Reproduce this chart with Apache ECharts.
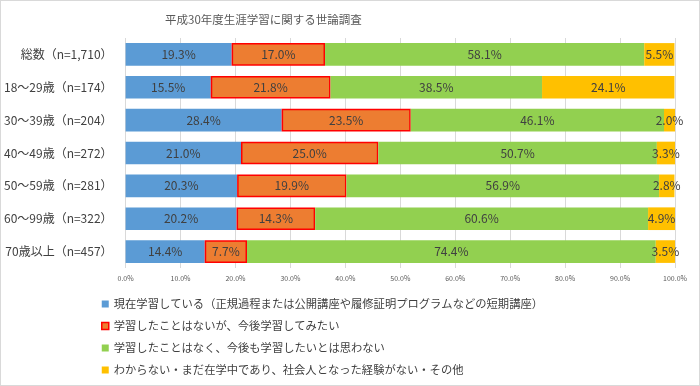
<!DOCTYPE html>
<html><head><meta charset="utf-8">
<script src="https://cdn.jsdelivr.net/npm/echarts@6/dist/echarts.min.js"></script>
<style>html,body{margin:0;padding:0;background:#fff}#c{width:698px;height:384px;border:1px solid #d9d9d9}</style>
</head><body><div id="c"></div>
<script>
const titleText = '平成30年度生涯学習に関する世論調査';
const categories = ['総数（n=1,710）','18～29歳（n=174）','30～39歳（n=204）','40～49歳（n=272）','50～59歳（n=281）','60～99歳（n=322）','70歳以上（n=457）'];
const seriesNames = [
  '現在学習している（正規過程または公開講座や履修証明プログラムなどの短期講座）',
  '学習したことはないが、今後学習してみたい',
  '学習したことはなく、今後も学習したいとは思わない',
  'わからない・まだ在学中であり、社会人となった経験がない・その他'
];
const currentlyLearning = [19.3,15.5,28.4,21.0,20.3,20.2,14.4];
const wantToLearn = [17.0,21.8,23.5,25.0,19.9,14.3,7.7];
const noIntention = [58.1,38.5,46.1,50.7,56.9,60.6,74.4];
const otherUnknown = [5.5,24.1,2.0,3.3,2.8,4.9,3.5];
const xTicks = [0,10,20,30,40,50,60,70,80,90,100];

const colors = ['#5B9BD5','#ED7D31','#92D050','#FFC000'];
const values = [currentlyLearning, wantToLearn, noIntention, otherUnknown];
const font = '"Noto Sans CJK JP", sans-serif';

const chart = echarts.init(document.getElementById('c'));
chart.setOption({
  animation: false,
  textStyle: {fontFamily: font},
  title: {text: titleText, left: 159, top: 8, textStyle: {fontSize: 11.5, fontWeight: 'normal', color: '#595959', fontFamily: font}},
  grid: {left: 123, right: 24, top: 37, bottom: 117},
  legend: {
    orient: 'vertical', left: 95, top: 292, itemWidth: 7, itemHeight: 7, itemGap: 10.5, itemGap: 10,
    icon: 'rect',
    textStyle: {fontSize: 11.3, color: '#404040', fontFamily: font, lineHeight: 12},
    data: seriesNames.map((n,i)=>({name:n, itemStyle: i===1?{borderColor:'#FF0000',borderWidth:1.5}:{}}))
  },
  xAxis: {
    type: 'value', min: 0, max: 100, interval: 10,
    axisLine: {show: false}, axisTick: {show: false},
    splitLine: {lineStyle: {color: '#d9d9d9', width: 1}},
    axisLabel: {fontSize: 7, color: '#595959', margin: 7, formatter: v => v.toFixed(1)+'%'}
  },
  yAxis: {
    type: 'category', inverse: true, data: categories,
    axisLine: {show: false}, axisTick: {show: false},
    axisLabel: {fontSize: 12, color: '#404040', margin: 13}
  },
  series: values.map((d,i)=>({
    name: seriesNames[i], type: 'bar', stack: 'all', barWidth: '69%',
    data: d,
    itemStyle: i===1 ? {color: colors[i], borderColor: '#FF0000', borderWidth: 1.5} : {color: colors[i]},
    label: {show: true, position: 'inside', fontSize: 12, color: '#404040', fontFamily: font,
      formatter: p => p.value.toFixed(1)+'%'}
  }))
});
</script></body></html>
